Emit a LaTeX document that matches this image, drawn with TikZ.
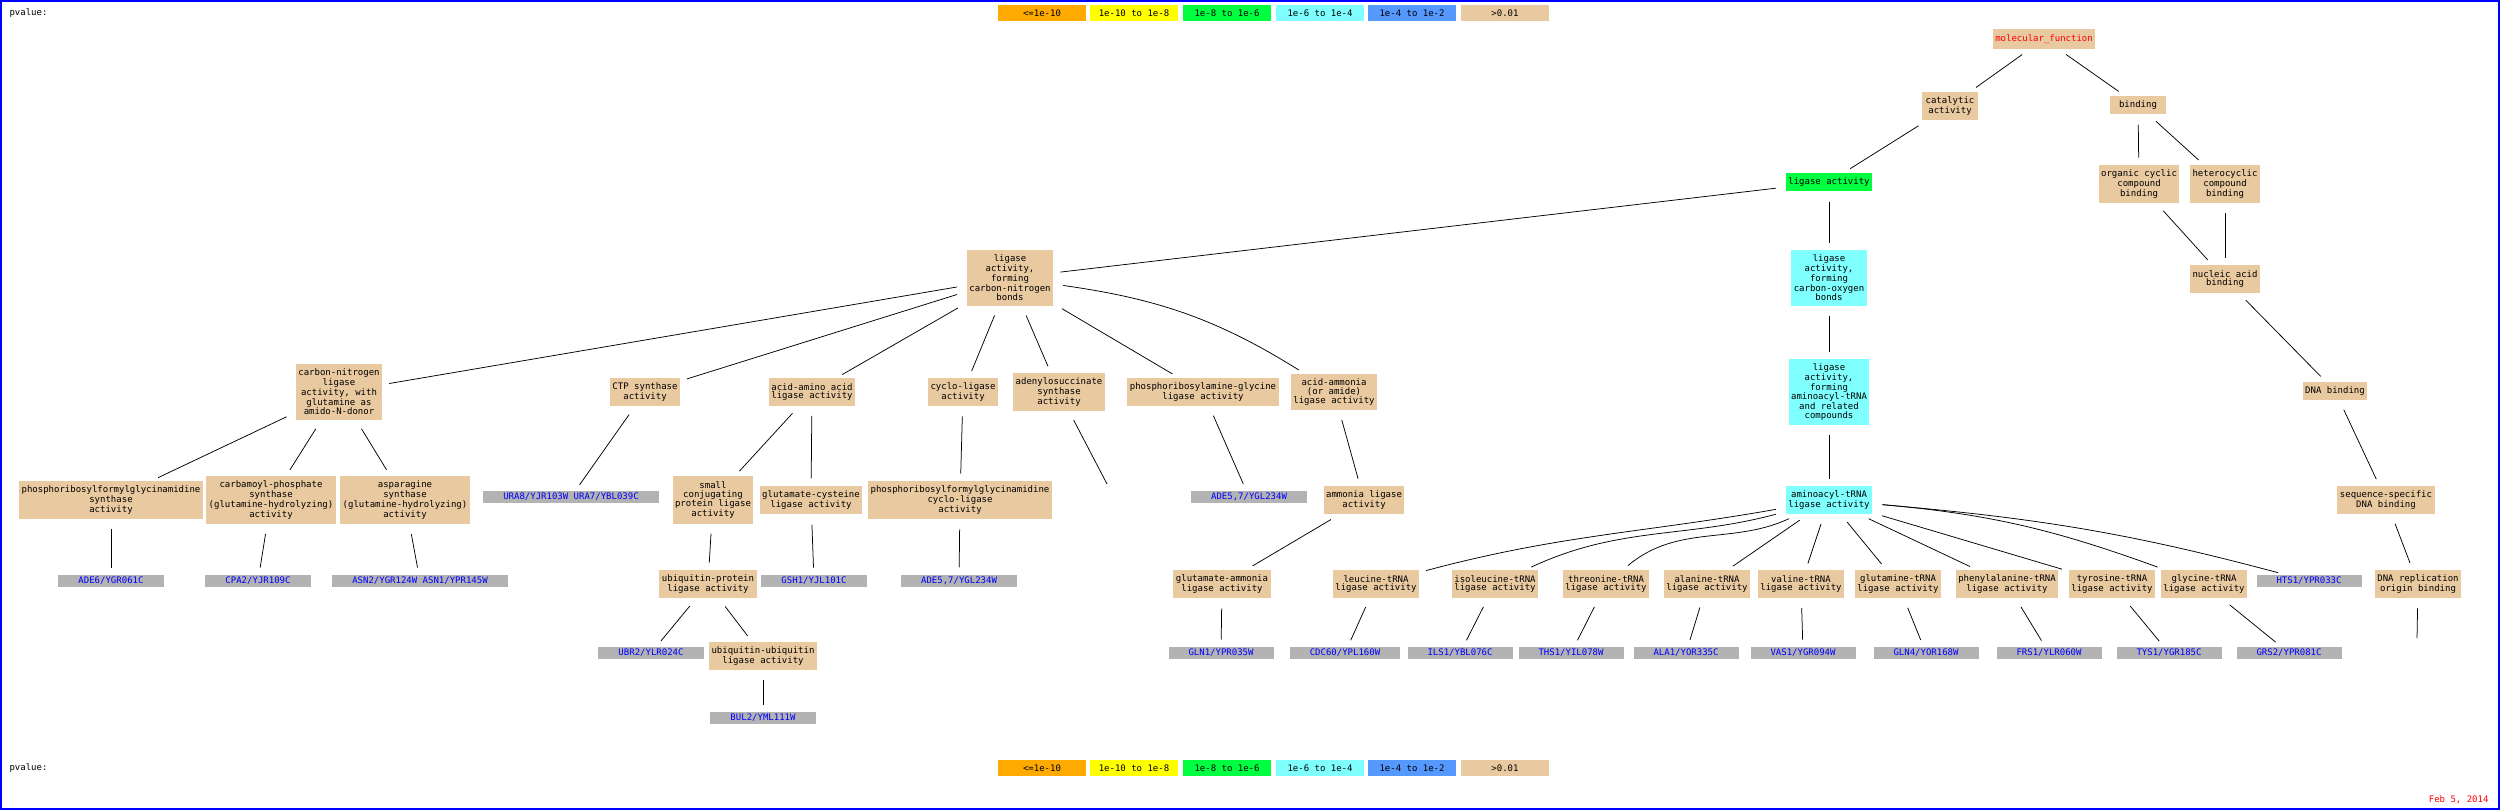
\documentclass[tikz,border=0pt]{standalone}
\usepackage{fontspec}
\usepackage{tikz}
\newfontfamily\gofont{DejaVu Sans Mono}
\definecolor{termtan}{RGB}{233,201,160}
\definecolor{genegray}{RGB}{179,179,179}
\definecolor{pvorange}{RGB}{255,170,0}
\definecolor{pvyellow}{RGB}{255,255,0}
\definecolor{pvgreen}{RGB}{0,255,64}
\definecolor{pvcyan}{RGB}{128,255,255}
\definecolor{pvblue}{RGB}{85,153,255}
\newcommand{\gosize}{\gofont\fontsize{9}{8.7}\selectfont}
\tikzset{term/.style = {fill=termtan, font=\gosize, align=center,
                        inner xsep=2.5pt, inner ysep=5pt, minimum width=56pt}}
\tikzset{gene/.style = {fill=genegray, text=blue, font=\gosize,
                        inner xsep=20pt, inner ysep=2.5pt}}
\tikzset{pvkey/.style = {font=\gosize, minimum width=88pt, minimum height=16pt}}
\tikzset{goline/.style = {line width=0.75pt, shorten <=10pt, shorten >=7pt}}

\begin{document}
\begin{tikzpicture}[x=1pt, y=1pt]
      \useasboundingbox (0,0) rectangle (2500,-810);
      \draw[blue, line width=2pt] (1,-1) rectangle (2499,-809);

      % p-value keys, top and bottom
      \node[anchor=west, font=\gosize] (pvtop) at (6,-13) {pvalue:};
      \node[pvkey, fill=pvorange] (kta) at (1042,-13) {<=1e-10};
      \node[pvkey, fill=pvyellow] (ktb) at (1134,-13) {1e-10 to 1e-8};
      \node[pvkey, fill=pvgreen] (ktc) at (1227,-13) {1e-8 to 1e-6};
      \node[pvkey, fill=pvcyan] (ktd) at (1320,-13) {1e-6 to 1e-4};
      \node[pvkey, fill=pvblue] (kte) at (1412,-13) {1e-4 to 1e-2};
      \node[pvkey, fill=termtan] (ktf) at (1505,-13) {>0.01};
      \node[anchor=west, font=\gosize] (pvbot) at (6,-768) {pvalue:};
      \node[pvkey, fill=pvorange] (kba) at (1042,-768) {<=1e-10};
      \node[pvkey, fill=pvyellow] (kbb) at (1134,-768) {1e-10 to 1e-8};
      \node[pvkey, fill=pvgreen] (kbc) at (1227,-768) {1e-8 to 1e-6};
      \node[pvkey, fill=pvcyan] (kbd) at (1320,-768) {1e-6 to 1e-4};
      \node[pvkey, fill=pvblue] (kbe) at (1412,-768) {1e-4 to 1e-2};
      \node[pvkey, fill=termtan] (kbf) at (1505,-768) {>0.01};
      \node[anchor=east, font=\gosize, text=red] (date) at (2492,-800) {Feb 5, 2014};

      % GO terms
      \node[term, text=red] (mf) at (2044,-39) {molecular\_function};
      \node[term] (cat) at (1950,-106) {catalytic\\activity};
      \node[term] (bind) at (2138,-105) {binding};
      \node[term, fill=pvgreen] (lig) at (1829,-182) {ligase activity};
      \node[term] (occb) at (2139,-184) {organic cyclic\\compound\\binding};
      \node[term] (hccb) at (2225,-184) {heterocyclic\\compound\\binding};
      \node[term, fill=pvcyan] (lco) at (1829,-278) {ligase\\activity,\\forming\\carbon-oxygen\\bonds};
      \node[term] (lcn) at (1010,-278) {ligase\\activity,\\forming\\carbon-nitrogen\\bonds};
      \node[term] (nab) at (2225,-279) {nucleic acid\\binding};
      \node[term] (cngl) at (339,-392) {carbon-nitrogen\\ligase\\activity, with\\glutamine as\\amido-N-donor};
      \node[term] (ctp) at (645,-392) {CTP synthase\\activity};
      \node[term] (aaal) at (812,-392) {acid-amino acid\\ligase activity};
      \node[term] (cycl) at (963,-392) {cyclo-ligase\\activity};
      \node[term] (adss) at (1059,-392) {adenylosuccinate\\synthase\\activity};
      \node[term] (prgl) at (1203,-392) {phosphoribosylamine-glycine\\ligase activity};
      \node[term] (aaml) at (1334,-392) {acid-ammonia\\(or amide)\\ligase activity};
      \node[term, fill=pvcyan] (lat) at (1829,-392) {ligase\\activity,\\forming\\aminoacyl-tRNA\\and related\\compounds};
      \node[term] (dnab) at (2335,-391) {DNA binding};
      \node[term] (pfgs) at (111,-500) {phosphoribosylformylglycinamidine\\synthase\\activity};
      \node[term] (cps) at (271,-500) {carbamoyl-phosphate\\synthase\\(glutamine-hydrolyzing)\\activity};
      \node[term] (asns) at (405,-500) {asparagine\\synthase\\(glutamine-hydrolyzing)\\activity};
      \node[gene] (ura) at (571,-497) {URA8/YJR103W URA7/YBL039C};
      \node[term] (scpl) at (713,-500) {small\\conjugating\\protein ligase\\activity};
      \node[term] (gcl) at (811,-500) {glutamate-cysteine\\ligase activity};
      \node[term] (pfgc) at (960,-500) {phosphoribosylformylglycinamidine\\cyclo-ligase\\activity};
      \coordinate (adsend) at (1107,-484);
      \node[gene] (adea) at (1249,-497) {ADE5,7/YGL234W};
      \node[term] (aml) at (1364,-500) {ammonia ligase\\activity};
      \node[term, fill=pvcyan] (atrna) at (1829,-500) {aminoacyl-tRNA\\ligase activity};
      \node[term] (ssdb) at (2386,-500) {sequence-specific\\DNA binding};

      \node[gene] (ade6) at (111,-581) {ADE6/YGR061C};
      \node[gene] (cpa2) at (258,-581) {CPA2/YJR109C};
      \node[gene] (asn) at (420,-581) {ASN2/YGR124W ASN1/YPR145W};
      \node[term] (upl) at (708,-584) {ubiquitin-protein\\ligase activity};
      \node[gene] (gsh1) at (814,-581) {GSH1/YJL101C};
      \node[gene] (adeb) at (959,-581) {ADE5,7/YGL234W};
      \node[term] (gal) at (1222,-584) {glutamate-ammonia\\ligase activity};
      \node[term] (leu) at (1376,-584) {leucine-tRNA\\ligase activity};
      \node[term] (ile) at (1495,-584) {isoleucine-tRNA\\ligase activity};
      \node[term] (thr) at (1606,-584) {threonine-tRNA\\ligase activity};
      \node[term] (ala) at (1707,-584) {alanine-tRNA\\ligase activity};
      \node[term] (val) at (1801,-584) {valine-tRNA\\ligase activity};
      \node[term] (gln) at (1898,-584) {glutamine-tRNA\\ligase activity};
      \node[term] (phe) at (2007,-584) {phenylalanine-tRNA\\ligase activity};
      \node[term] (tyr) at (2112,-584) {tyrosine-tRNA\\ligase activity};
      \node[term] (gly) at (2204,-584) {glycine-tRNA\\ligase activity};
      \node[gene] (hts1) at (2309,-581) {HTS1/YPR033C};
      \node[term] (drob) at (2418,-584) {DNA replication\\origin binding};
      \coordinate (droend) at (2417,-638);

      \node[gene] (ubr2) at (651,-653) {UBR2/YLR024C};
      \node[term] (uul) at (763,-656) {ubiquitin-ubiquitin\\ligase activity};
      \node[gene] (gln1) at (1221,-653) {GLN1/YPR035W};
      \node[gene] (cdc60) at (1345,-653) {CDC60/YPL160W};
      \node[gene] (ils1) at (1460,-653) {ILS1/YBL076C};
      \node[gene] (ths1) at (1571,-653) {THS1/YIL078W};
      \node[gene] (ala1) at (1686,-653) {ALA1/YOR335C};
      \node[gene] (vas1) at (1803,-653) {VAS1/YGR094W};
      \node[gene] (gln4) at (1926,-653) {GLN4/YOR168W};
      \node[gene] (frs1) at (2049,-653) {FRS1/YLR060W};
      \node[gene] (tys1) at (2169,-653) {TYS1/YGR185C};
      \node[gene] (grs2) at (2289,-653) {GRS2/YPR081C};
      \node[gene] (bul2) at (763,-718) {BUL2/YML111W};

      % links
      \draw[goline] (mf) -- (cat);
      \draw[goline] (mf) -- (bind);
      \draw[goline] (cat) -- (lig);
      \draw[goline] (bind) -- (occb);
      \draw[goline] (bind) -- (hccb);
      \draw[goline] (occb) -- (nab);
      \draw[goline] (hccb) -- (nab);
      \draw[goline] (nab) -- (dnab);
      \draw[goline] (dnab) -- (ssdb);
      \draw[goline] (ssdb) -- (drob);
      \draw[goline, shorten >=0pt] (drob) -- (droend);
      \draw[goline] (lig) -- (lcn);
      \draw[goline] (lig) -- (lco);
      \draw[goline] (lco) -- (lat);
      \draw[goline] (lat) -- (atrna);
      \draw[goline] (lcn) -- (cngl);
      \draw[goline] (lcn) -- (ctp);
      \draw[goline] (lcn) -- (aaal);
      \draw[goline] (lcn) -- (cycl);
      \draw[goline] (lcn) -- (adss);
      \draw[goline] (lcn) -- (prgl);
      \draw[goline] (lcn) to[out=-8, in=148] (aaml);
      \draw[goline] (cngl) -- (pfgs);
      \draw[goline] (cngl) -- (cps);
      \draw[goline] (cngl) -- (asns);
      \draw[goline] (ctp) -- (ura);
      \draw[goline] (aaal) -- (scpl);
      \draw[goline] (aaal) -- (gcl);
      \draw[goline] (cycl) -- (pfgc);
      \draw[goline, shorten >=0pt] (adss) -- (adsend);
      \draw[goline] (prgl) -- (adea);
      \draw[goline] (aaml) -- (aml);
      \draw[goline] (pfgs) -- (ade6);
      \draw[goline] (cps) -- (cpa2);
      \draw[goline] (asns) -- (asn);
      \draw[goline] (scpl) -- (upl);
      \draw[goline] (gcl) -- (gsh1);
      \draw[goline] (pfgc) -- (adeb);
      \draw[goline] (aml) -- (gal);
      \draw[goline] (upl) -- (ubr2);
      \draw[goline] (upl) -- (uul);
      \draw[goline] (uul) -- (bul2);
      \draw[goline] (gal) -- (gln1);
      \draw[goline] (atrna) to[out=190, in=15] (leu);
      \draw[goline] (atrna) to[out=195, in=25] (ile);
      \draw[goline] (atrna) to[out=205, in=40] (thr);
      \draw[goline] (atrna) -- (ala);
      \draw[goline] (atrna) -- (val);
      \draw[goline] (atrna) -- (gln);
      \draw[goline] (atrna) -- (phe);
      \draw[goline] (atrna) -- (tyr);
      \draw[goline] (atrna) to[out=-5, in=160] (gly);
      \draw[goline] (atrna) to[out=-5, in=165] (hts1);
      \draw[goline] (leu) -- (cdc60);
      \draw[goline] (ile) -- (ils1);
      \draw[goline] (thr) -- (ths1);
      \draw[goline] (ala) -- (ala1);
      \draw[goline] (val) -- (vas1);
      \draw[goline] (gln) -- (gln4);
      \draw[goline] (phe) -- (frs1);
      \draw[goline] (tyr) -- (tys1);
      \draw[goline] (gly) -- (grs2);
\end{tikzpicture}
\end{document}
